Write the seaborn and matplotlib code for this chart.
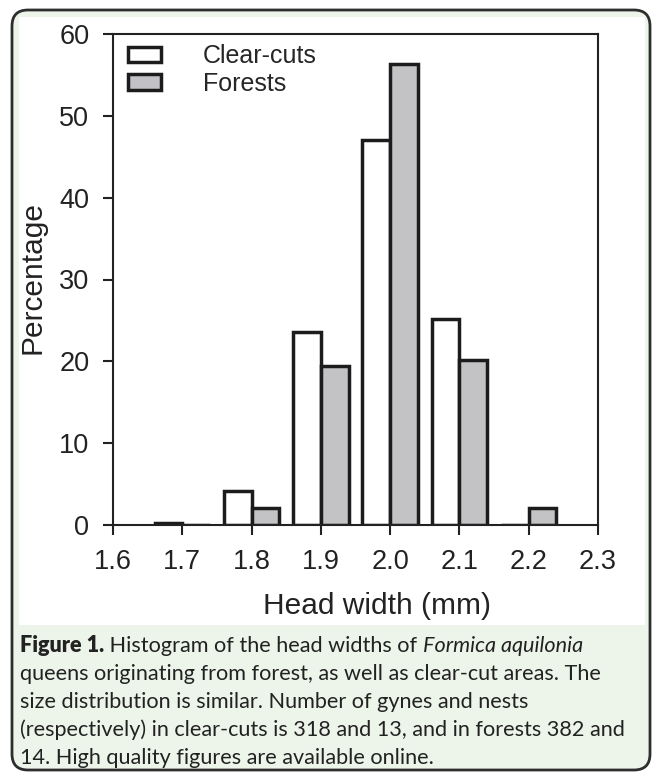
import pandas as pd
import seaborn as sns
import matplotlib.pyplot as plt
from matplotlib.patches import FancyBboxPatch, Rectangle, Patch
from matplotlib.transforms import IdentityTransform

# values (percent of queens per head-width class)
head_widths = [1.7, 1.8, 1.9, 2.0, 2.1, 2.2]
clear_cuts = [0.3, 4.1, 23.6, 47.0, 25.2, 0.0]
forests = [0.0, 2.1, 19.4, 56.3, 20.2, 2.1]
habitats = ['Clear-cuts', 'Forests']
x_ticks = [1.6, 1.7, 1.8, 1.9, 2.0, 2.1, 2.2, 2.3]
y_ticks = [0, 10, 20, 30, 40, 50, 60]

caption_lines = [
    [('Figure 1.', 'bold'), (' Histogram of the head widths of ', 'normal'),
     ('Formica aquilonia', 'italic')],
    [('queens originating from forest, as well as clear-cut areas. The', 'normal')],
    [('size distribution is similar. Number of gynes and nests', 'normal')],
    [('(respectively) in clear-cuts is 318 and 13, and in forests 382 and', 'normal')],
    [('14. High quality figures are available online.', 'normal')],
]

W, H = 653, 773
GREEN = '#edf5ea'
INK = '#222222'

sns.set_style('ticks')
plt.rcParams['font.family'] = ['Liberation Sans', 'DejaVu Sans']

fig = plt.figure(figsize=(W / 100, H / 100), dpi=100)
fig.patch.set_facecolor('white')

# rounded journal frame, green caption box and the white panel holding the chart
frame = FancyBboxPatch((12, H - 770), 638, 760, boxstyle='round,pad=0,rounding_size=16',
                       transform=IdentityTransform(), facecolor=GREEN,
                       edgecolor='#2e2e2e', linewidth=2, zorder=-3)
panel = Rectangle((19, H - 625), 626, 608, transform=IdentityTransform(),
                  facecolor='white', edgecolor='none', zorder=-2)
fig.add_artist(frame)
fig.add_artist(panel)

ax = fig.add_axes([113 / W, 1 - 525 / H, (598 - 113) / W, (525 - 34) / H])

df = pd.DataFrame({
    'width': head_widths * 2,
    'pct': clear_cuts + forests,
    'habitat': [habitats[0]] * len(head_widths) + [habitats[1]] * len(head_widths),
})
colors = {'Clear-cuts': 'white', 'Forests': '#c2c2c6'}

sns.barplot(data=df, x='width', y='pct', hue='habitat', hue_order=habitats,
            palette=colors, native_scale=True, width=0.8, errorbar=None,
            edgecolor='#1c1c1c', linewidth=2.5, legend=False, ax=ax)

ax.set_xlim(1.6, 2.3)
ax.set_ylim(0, 60)
ax.set_xticks(x_ticks)
ax.set_xticklabels([f'{v:.1f}' for v in x_ticks])
ax.set_yticks(y_ticks)
ax.tick_params(direction='out', length=7, width=1.5, pad=10,
               labelsize=19.5, colors=INK)
for s in ax.spines.values():
    s.set_linewidth(1.5)
    s.set_color(INK)

ax.set_xlabel('Head width (mm)', fontsize=21.5, color=INK)
ax.set_ylabel('Percentage', fontsize=21.5, color=INK)
ax.xaxis.set_label_coords(0.544, -0.136)
ax.yaxis.set_label_coords(-0.137, 0.505)

handles = [Patch(facecolor=colors[h], edgecolor='#1c1c1c', linewidth=2.5, label=h)
           for h in habitats]
ax.legend(handles=handles, loc='upper left', bbox_to_anchor=(0.031, 0.979),
          frameon=False, fontsize=18, handlelength=1.3, handleheight=0.6,
          handletextpad=1.7, labelspacing=0.15, borderpad=0, borderaxespad=0)

# caption, built segment by segment so bold / italic runs sit on one line
renderer = fig.canvas.get_renderer()
line_y = [644, 672, 700, 728, 756]
for segs, yc in zip(caption_lines, line_y):
    x = 20
    for text, style in segs:
        t = fig.text(x / W, 1 - yc / H, text, fontsize=15.6, color=INK,
                     family=['Lato', 'DejaVu Sans'], va='center_baseline',
                     fontweight='heavy' if style == 'bold' else 'normal',
                     fontstyle='italic' if style == 'italic' else 'normal')
        x += t.get_window_extent(renderer).width

fig.savefig('out.png', dpi=100)
